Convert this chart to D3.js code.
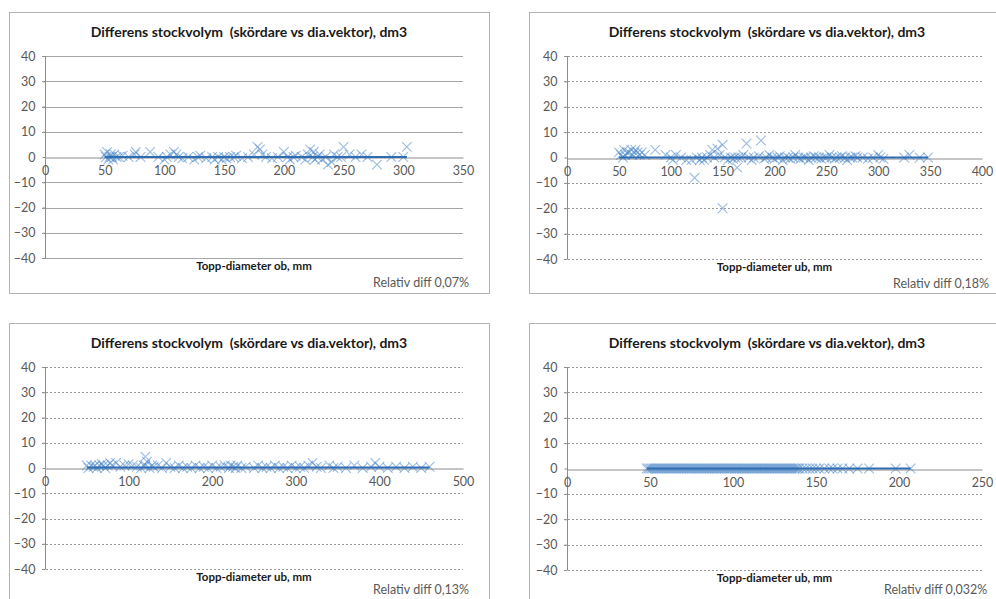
<!DOCTYPE html>
<html>
<head>
<meta charset="utf-8">
<script src="https://cdn.jsdelivr.net/npm/d3@7"></script>
<style>
  html, body { margin: 0; padding: 0; background: #ffffff; }
  svg { display: block; }
  text { font-family: Lato, "Open Sans", sans-serif; }
</style>
</head>
<body>
<svg id="chart" width="996" height="599"></svg>
<script>
// Shared chart texts
const chartTitle = "Differens stockvolym  (skördare vs dia.vektor), dm3";
const yTicks = [40, 30, 20, 10, 0, -10, -20, -30, -40];

// Panel 1: top diameter on bark
const p1Title = "Topp-diameter ob, mm";
const p1Note = "Relativ diff 0,07%";
const p1XTicks = [0, 50, 100, 150, 200, 250, 300, 350];
const p1Diam = [50, 51, 52, 53, 54, 55, 56, 57, 58, 60, 62, 65, 70, 75, 76, 80, 88, 95, 100, 102,
  105, 108, 110, 112, 115, 120, 125, 128, 130, 135, 140, 142, 145, 148, 150, 152, 155, 158, 160, 165,
  170, 175, 178, 180, 182, 185, 190, 195, 200, 203, 205, 208, 210, 215, 218, 220, 222, 224, 225, 226,
  228, 230, 232, 235, 237, 240, 242, 245, 248, 250, 255, 260, 265, 270, 278, 290, 300, 303];
const p1Diff = [1, 0, 2, -1, 0, 1, 0, -1, 1, 0, 0, 0.5, 0, 1, 2, 0, 2, 0, -1, 0,
  1, 2, 1, 0, -0.5, 0, -1, 0, 0.5, -0.5, 0, -1, 0, -1, 0, -0.5, 0, 0, 0.5, -0.5,
  0, 1, 4, 3, 1, 0, -0.5, 0, 2, 0, -1, 0, 0.5, 0, -1, 1, 3, 0, 2, -1,
  0, 1, -1, 0, -3, -2, 1, 0, 0, 4, 1, 0, 1, 0, -3, 0, 0, 4];
const p1Fit = [[50, 0], [303, 0]];

// Panel 2: top diameter under bark
const p2Title = "Topp-diameter ub, mm";
const p2Note = "Relativ diff 0,18%";
const p2XTicks = [0, 50, 100, 150, 200, 250, 300, 350, 400];
const p2Diam = [50, 52, 54, 55, 56, 58, 60, 62, 63, 65, 66, 68, 70, 72, 75, 85, 95, 100, 102, 105,
  110, 115, 120, 123, 125, 128, 130, 132, 135, 138, 140, 142, 145, 147, 150, 150, 152, 155, 158, 160,
  162, 164, 165, 168, 170, 173, 175, 178, 180, 185, 187, 190, 192, 195, 198, 200, 203, 205, 208, 210,
  213, 215, 218, 220, 223, 225, 228, 230, 233, 235, 238, 240, 243, 245, 248, 250, 253, 255, 258, 260,
  263, 265, 268, 270, 273, 275, 278, 280, 285, 290, 295, 300, 302, 305, 325, 330, 340, 348];
const p2Diff = [2, 1, 0, 3, 1, 2, 2, 3, 1, 2, 3, 2, 1, 2, 1, 3, 1, 0, -1, 1,
  0, -1, -1, -8, 0, -1, 0, -1, 0, 1, 3, 0, 3.5, 1, 5, -20, 0, -1, 0, -0.5,
  0, -4, 0, 0, 1, 5.5, 0, -1, 0, 0.5, 6.7, -0.5, 0, 1, 0, -0.5, 0, 0.5, -1, 0,
  0, -0.5, 0, 1, 0, -0.5, 0, 0, -1, 0, 0.5, 0, 0, -0.5, 0, 0, 1, 0, -0.5, 0,
  0, 0.5, 0, -1, 0, 0, 0.5, 0, 0, -0.5, 0, 1, 0, -0.5, 0, 1, 0, 0];
const p2Fit = [[50, 0], [348, 0]];

// Panel 3: top diameter under bark
const p3Title = "Topp-diameter ub, mm";
const p3Note = "Relativ diff 0,13%";
const p3XTicks = [0, 100, 200, 300, 400, 500];
const p3Diam = [50, 52, 55, 58, 60, 62, 65, 68, 70, 72, 75, 78, 80, 85, 90, 95, 100, 105, 110, 115,
  118, 120, 120, 122, 125, 128, 130, 135, 140, 145, 150, 155, 160, 165, 170, 175, 180, 185, 190, 195,
  200, 205, 210, 215, 220, 222, 225, 228, 230, 235, 240, 250, 255, 260, 265, 270, 275, 280, 285, 290,
  295, 300, 305, 310, 315, 320, 325, 330, 340, 345, 350, 360, 370, 380, 390, 395, 400, 410, 420, 430,
  440, 450, 460];
const p3Diff = [1, 0, 1, 0.5, 1, 0, 1, 1.5, 1, 0, 1, 2, 1, 2, 0.5, 1, 1.5, 1, 0.5, 0,
  1, 4.5, 1, 2.5, 0, 1, 0.5, 1, 0, 2, 0.5, 0, 1, 0, 0.5, 0, 1, 0, 0.5, 0,
  1, 0, 0.5, 1, 0, 1, 0.5, 0, 1, 0, 0.5, 0, 1, 0, 0.5, 0, 1, 0, 0.5, 0,
  1, 0, 0.5, 0, 1, 2, 0.5, 0, 1, 0, 0.5, 0, 1, 0, 0.5, 2, 0.5, 0, 0.5, 0,
  0.5, 0, 0.5];
const p3Fit = [[50, 0.2], [460, 0.2]];

// Panel 4: top diameter under bark
const p4Title = "Topp-diameter ub, mm";
const p4Note = "Relativ diff 0,032%";
const p4XTicks = [0, 50, 100, 150, 200, 250];
const p4Diam = [48, 49, 50, 51, 52, 53, 54, 55, 56, 57, 58, 59, 60, 61, 62, 63, 64, 65, 66, 67,
  68, 69, 70, 71, 72, 73, 74, 75, 76, 77, 78, 79, 80, 81, 82, 83, 84, 85, 86, 87,
  88, 89, 90, 91, 92, 93, 94, 95, 96, 97, 98, 99, 100, 101, 102, 103, 104, 105, 106, 107,
  108, 109, 110, 111, 112, 113, 114, 115, 116, 117, 118, 119, 120, 121, 122, 123, 124, 125, 126, 127,
  128, 129, 130, 131, 132, 133, 134, 135, 136, 137, 138, 139, 140, 142, 144, 146, 148, 150, 152, 155,
  158, 160, 163, 166, 170, 175, 182, 198, 207];
const p4Diff = [0, 0, 0, 0, 0, 0, 0, 0, 0, 0, 0, 0, 0, 0, 0, 0, 0, 0, 0, 0,
  0, 0, 0, 0, 0, 0, 0, 0, 0, 0, 0, 0, 0, 0, 0, 0, 0, 0, 0, 0,
  0, 0, 0, 0, 0, 0, 0, 0, 0, 0, 0, 0, 0, 0, 0, 0, 0, 0, 0, 0,
  0, 0, 0, 0, 0, 0, 0, 0, 0, 0, 0, 0, 0, 0, 0, 0, 0, 0, 0, 0,
  0, 0, 0, 0, 0, 0, 0, 0, 0, 0, 0, 0, 0, 0, 0, 0, 0, 0, 0, 0,
  0, 0, 0, 0, 0, 0, 0, 0, 0];
const p4Fit = [[48, 0], [207, 0]];

const svg = d3.select("#chart");

const panels = [
  { box: [9, 12, 480, 281], plot: [45, 56, 463, 258], xMax: 350, xTicks: p1XTicks, diam: p1Diam, diff: p1Diff,
    fit: p1Fit, axisTitle: p1Title, note: p1Note, noteX: 373, noteY: 287, dashed: false },
  { box: [529, 12, 476, 281], plot: [567, 56, 982, 259], xMax: 400, xTicks: p2XTicks, diam: p2Diam, diff: p2Diff,
    fit: p2Fit, axisTitle: p2Title, note: p2Note, noteX: 893, noteY: 288, dashed: true },
  { box: [9, 323, 480, 290], plot: [45, 367, 463, 569], xMax: 500, xTicks: p3XTicks, diam: p3Diam, diff: p3Diff,
    fit: p3Fit, axisTitle: p3Title, note: p3Note, noteX: 373, noteY: 594, dashed: true },
  { box: [529, 323, 476, 290], plot: [567, 367, 982, 570], xMax: 250, xTicks: p4XTicks, diam: p4Diam, diff: p4Diff,
    fit: p4Fit, axisTitle: p4Title, note: p4Note, noteX: 884, noteY: 594, dashed: true }
];

function drawPanel(p) {
  const g = svg.append("g");
  const [bx, by, bw, bh] = p.box;
  const [x0, y0, x1, y1] = p.plot;

  g.append("rect").attr("x", bx + 0.5).attr("y", by + 0.5).attr("width", bw).attr("height", bh)
    .attr("fill", "#ffffff").attr("stroke", "#b3b3b3").attr("stroke-width", 1);

  const x = d3.scaleLinear().domain([0, p.xMax]).range([x0, x1]);
  const y = d3.scaleLinear().domain([-40, 40]).range([y1, y0]);

  // Title
  g.append("text").attr("x", bx + bw / 2).attr("y", by + 25).attr("text-anchor", "middle")
    .style("white-space", "pre")
    .attr("font-size", 14).attr("font-weight", "bold").attr("fill", "#1a1a1a").text(chartTitle);

  // Horizontal gridlines (zero row is the category axis)
  g.append("g").selectAll("line").data(yTicks.filter(v => v !== 0)).join("line")
    .attr("x1", x0 - 3).attr("x2", x1)
    .attr("y1", d => Math.round(y(d)) + 0.5).attr("y2", d => Math.round(y(d)) + 0.5)
    .attr("stroke", p.dashed ? "#9a9a9a" : "#a6a6a6").attr("stroke-width", 1)
    .attr("stroke-dasharray", p.dashed ? "2,2" : null);

  // Y axis
  const yAxis = d3.axisLeft(y).tickValues(yTicks).tickSize(3).tickPadding(7);
  const ya = g.append("g").attr("transform", `translate(${x0 + 0.5},0)`).call(yAxis);
  ya.select(".domain").attr("stroke", "#8c8c8c").attr("d", `M0,${y(40)}V${y(-40)}`);
  ya.selectAll(".tick line").attr("stroke", "#8c8c8c");
  ya.selectAll(".tick text").attr("font-size", 12.5).attr("fill", "#595959")
    .attr("font-family", "Lato, 'Open Sans', sans-serif");

  // X axis along zero
  const xAxis = d3.axisBottom(x).tickValues(p.xTicks).tickSize(0).tickPadding(9);
  const xa = g.append("g").attr("transform", `translate(0,${Math.round(y(0)) + 0.5})`).call(xAxis);
  xa.select(".domain").attr("stroke", "#8c8c8c");
  xa.selectAll(".tick text").attr("font-size", 12.5).attr("fill", "#595959")
    .attr("font-family", "Lato, 'Open Sans', sans-serif");

  // Measurements as X markers
  const pts = p.diam.map((d, i) => [d, p.diff[i]]);
  const s = 4.8;
  g.append("g").selectAll("path").data(pts).join("path")
    .attr("d", d => {
      const cx = x(d[0]), cy = y(d[1]);
      return `M${cx - s},${cy - s}L${cx + s},${cy + s}M${cx - s},${cy + s}L${cx + s},${cy - s}`;
    })
    .attr("fill", "none").attr("stroke", "#4a86c8").attr("stroke-opacity", 0.55).attr("stroke-width", 1.1);

  // Fitted line
  g.append("path").datum(p.fit)
    .attr("d", d3.line().x(d => x(d[0])).y(d => y(d[1])))
    .attr("fill", "none").attr("stroke", "#2e6db4").attr("stroke-width", 2);

  // Axis title and note
  g.append("text").attr("x", (x0 + x1) / 2).attr("y", y1 + 12).attr("text-anchor", "middle")
    .attr("font-size", 11.5).attr("font-weight", "bold").attr("fill", "#1a1a1a").text(p.axisTitle);
  g.append("text").attr("x", p.noteX).attr("y", p.noteY)
    .attr("font-size", 12.5).attr("fill", "#595959").text(p.note);
}

panels.forEach(drawPanel);
</script>
</body>
</html>
